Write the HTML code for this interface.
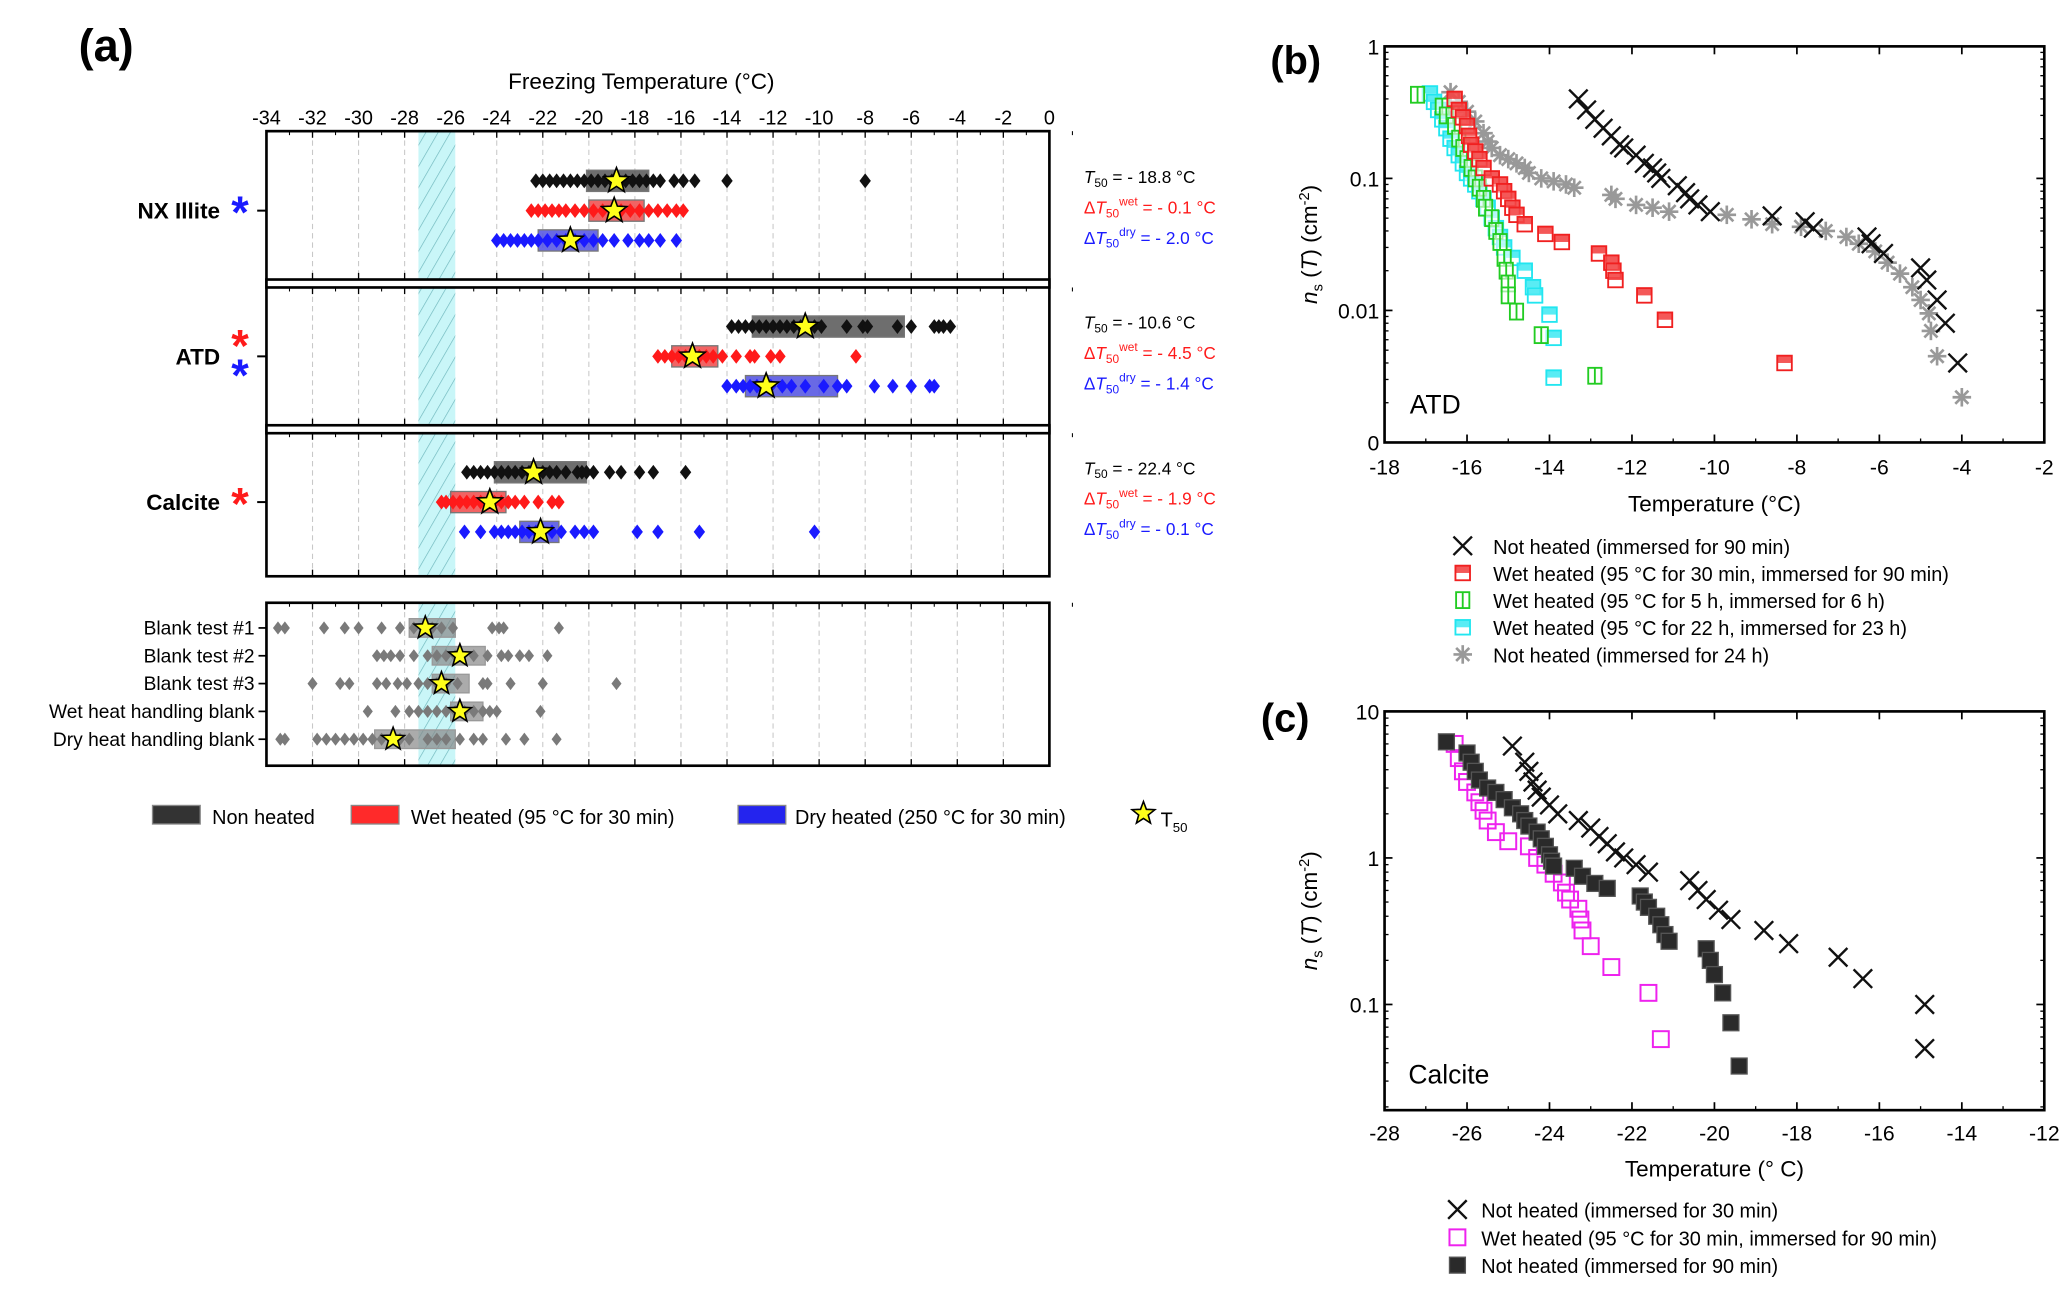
<!DOCTYPE html>
<html><head><meta charset="utf-8"><style>
html,body{margin:0;padding:0;background:#fff;}
svg{display:block;font-family:"Liberation Sans",Arial,sans-serif;}
</style></head><body>
<svg id="fig" width="2067" height="1289" viewBox="0 0 1560 973" xmlns="http://www.w3.org/2000/svg">
<defs>
<pattern id="hatch" width="8" height="8" patternUnits="userSpaceOnUse" patternTransform="rotate(30)">
<rect width="8" height="8" fill="#c9f6f8"/><line x1="0" y1="0" x2="0" y2="8" stroke="#6fb7bd" stroke-width="1"/>
</pattern>
</defs>
<g id="root"></g>
</svg>
<script>
// ---------- Panel (a) data ----------
const aTicks = [-34,-32,-30,-28,-26,-24,-22,-20,-18,-16,-14,-12,-10,-8,-6,-4,-2,0];
const samples = ['NX Illite','ATD','Calcite'];
const t50Text = ['- 18.8','- 10.6','- 22.4'];
const dWetText = ['- 0.1','- 4.5','- 1.9'];
const dDryText = ['- 2.0','- 1.4','- 0.1'];
const nxBlack = [-22.3,-22.0,-21.7,-21.4,-21.1,-20.8,-20.5,-20.2,-19.9,-19.6,-19.3,-19.0,-18.7,-18.4,-18.1,-17.8,-17.5,-17.2,-16.9,-16.3,-15.9,-15.4,-14.0,-8.0];
const nxRed = [-22.5,-22.2,-21.9,-21.6,-21.3,-21.0,-20.6,-20.2,-19.8,-19.4,-19.0,-18.6,-18.2,-17.8,-17.4,-17.0,-16.6,-16.2,-15.9];
const nxBlue = [-24.0,-23.7,-23.4,-23.1,-22.8,-22.5,-22.2,-21.8,-21.4,-21.0,-20.6,-20.2,-19.8,-19.4,-18.9,-18.3,-17.8,-17.4,-16.9,-16.2];
const atdBlack = [-13.8,-13.5,-13.2,-12.9,-12.6,-12.3,-12.0,-11.7,-11.4,-11.1,-10.8,-10.5,-10.2,-9.9,-8.8,-8.1,-7.9,-6.6,-6.0,-5.0,-4.8,-4.6,-4.3];
const atdRed = [-17.0,-16.7,-16.4,-16.1,-15.8,-15.5,-15.2,-14.9,-14.6,-14.2,-13.6,-13.0,-12.8,-12.1,-11.7,-8.4];
const atdBlue = [-14.0,-13.6,-13.3,-13.0,-12.7,-12.4,-12.1,-11.6,-11.2,-10.6,-9.8,-9.2,-8.8,-7.6,-6.8,-6.0,-5.2,-5.0];
const calBlack = [-25.3,-25.0,-24.7,-24.4,-24.1,-23.8,-23.5,-23.2,-22.9,-22.6,-22.3,-22.0,-21.7,-21.4,-21.0,-20.5,-20.3,-20.1,-19.8,-19.1,-18.6,-17.8,-17.2,-15.8];
const calRed = [-26.4,-26.2,-25.9,-25.6,-25.3,-25.0,-24.7,-24.4,-24.1,-23.8,-23.5,-23.2,-22.8,-22.2,-21.6,-21.3];
const calBlue = [-25.4,-24.7,-24.1,-23.8,-23.5,-23.2,-22.9,-22.6,-22.3,-22.0,-21.6,-21.2,-20.6,-20.2,-19.8,-17.9,-17.0,-15.2,-10.2];
const rowPoints = [[nxBlack,nxRed,nxBlue],[atdBlack,atdRed,atdBlue],[calBlack,calRed,calBlue]];
const boxLo = [[-20.1,-20.0,-22.2],[-12.9,-16.4,-13.2],[-24.1,-26.0,-23.0]];
const boxHi = [[-17.4,-17.6,-19.6],[-6.3,-14.4,-9.2],[-20.1,-23.6,-21.3]];
const starT = [[-18.8,-18.9,-20.8],[-10.6,-15.5,-12.3],[-22.4,-24.3,-22.1]];
const blankNames = ['Blank test #1','Blank test #2','Blank test #3','Wet heat handling blank','Dry heat handling blank'];
const blank1 = [-33.5,-33.2,-31.5,-30.6,-30.0,-29.0,-28.2,-27.6,-27.2,-26.8,-26.4,-25.9,-24.2,-23.9,-23.7,-21.3];
const blank2 = [-29.2,-28.9,-28.6,-28.2,-27.6,-27.0,-26.6,-26.2,-25.8,-25.5,-25.0,-24.4,-23.8,-23.5,-23.0,-22.6,-21.8];
const blank3 = [-32.0,-30.8,-30.4,-29.2,-28.8,-28.3,-27.9,-27.4,-27.0,-26.6,-26.2,-25.7,-24.6,-24.4,-23.4,-22.0,-18.8];
const blankWet = [-29.6,-28.4,-27.8,-27.4,-27.0,-26.6,-26.2,-25.8,-25.4,-25.0,-24.6,-24.3,-24.0,-22.1];
const blankDry = [-33.4,-33.2,-31.8,-31.4,-31.0,-30.6,-30.2,-29.8,-29.4,-29.0,-28.6,-28.2,-27.8,-27.0,-26.6,-26.2,-25.6,-25.0,-24.6,-23.6,-22.8,-21.4];
const blankPts = [blank1,blank2,blank3,blankWet,blankDry];
const blankLo = [-27.8,-26.8,-26.8,-26.0,-29.3];
const blankHi = [-25.8,-24.5,-25.2,-24.6,-25.8];
const blankStar = [-27.1,-25.6,-26.4,-25.6,-28.5];
const bandLo = -27.4, bandHi = -25.8;

// ---------- Panel (b) data ----------
const bXTicks = [-18,-16,-14,-12,-10,-8,-6,-4,-2];
const bYTicks = [1,0.1,0.01,0.001];
const bYLabels = ['1','0.1','0.01','0'];
const atdNot90 = [[-13.3,0.40],[-13.1,0.33],[-12.9,0.28],[-12.7,0.24],[-12.5,0.21],[-12.3,0.18],[-12.2,0.17],[-11.9,0.15],[-11.7,0.13],[-11.5,0.12],[-11.4,0.11],[-11.3,0.10],[-10.9,0.088],[-10.7,0.078],[-10.6,0.07],[-10.4,0.063],[-10.1,0.056],[-8.6,0.052],[-7.8,0.047],[-7.6,0.042],[-6.3,0.036],[-6.2,0.032],[-5.9,0.027],[-5.0,0.021],[-4.85,0.017],[-4.6,0.012],[-4.4,0.008],[-4.1,0.004]];
const atdWet30 = [[-16.3,0.40],[-16.2,0.33],[-16.1,0.29],[-16.0,0.25],[-15.95,0.21],[-15.9,0.18],[-15.8,0.16],[-15.7,0.14],[-15.6,0.12],[-15.4,0.10],[-15.2,0.09],[-15.1,0.08],[-15.0,0.07],[-14.9,0.06],[-14.8,0.053],[-14.6,0.045],[-14.1,0.038],[-13.7,0.033],[-12.8,0.027],[-12.5,0.023],[-12.45,0.02],[-12.4,0.017],[-11.7,0.013],[-11.2,0.0085],[-8.3,0.004]];
const atdWet5h = [[-17.2,0.43],[-16.6,0.35],[-16.5,0.3],[-16.3,0.25],[-16.2,0.2],[-16.1,0.17],[-16.0,0.14],[-15.9,0.12],[-15.8,0.1],[-15.7,0.085],[-15.6,0.07],[-15.55,0.06],[-15.4,0.05],[-15.3,0.04],[-15.2,0.033],[-15.1,0.025],[-15.05,0.02],[-15.0,0.016],[-15.0,0.013],[-14.8,0.0098],[-14.2,0.0065],[-12.9,0.0032]];
const atdWet22h = [[-16.9,0.44],[-16.8,0.38],[-16.7,0.33],[-16.6,0.28],[-16.5,0.24],[-16.4,0.2],[-16.3,0.17],[-16.2,0.15],[-16.1,0.13],[-16.0,0.11],[-15.9,0.1],[-15.8,0.09],[-15.7,0.08],[-15.6,0.07],[-15.5,0.06],[-15.4,0.05],[-15.3,0.042],[-15.2,0.036],[-15.1,0.03],[-14.9,0.025],[-14.6,0.02],[-14.4,0.015],[-14.35,0.013],[-14.0,0.0093],[-13.9,0.0062],[-13.9,0.0031]];
const atdNot24 = [[-16.4,0.45],[-16.2,0.38],[-16.0,0.32],[-15.8,0.27],[-15.6,0.22],[-15.5,0.19],[-15.4,0.17],[-15.2,0.15],[-15.0,0.14],[-14.8,0.13],[-14.6,0.12],[-14.5,0.11],[-14.2,0.1],[-13.9,0.095],[-13.6,0.09],[-13.4,0.085],[-12.5,0.075],[-12.4,0.07],[-11.9,0.063],[-11.5,0.06],[-11.1,0.056],[-9.7,0.053],[-9.1,0.049],[-8.6,0.045],[-7.9,0.043],[-7.3,0.04],[-6.8,0.036],[-6.5,0.032],[-6.1,0.028],[-5.8,0.023],[-5.5,0.019],[-5.2,0.015],[-5.0,0.012],[-4.8,0.0095],[-4.75,0.007],[-4.6,0.0045],[-4.0,0.0022]];

// ---------- Panel (c) data ----------
const cXTicks = [-28,-26,-24,-22,-20,-18,-16,-14,-12];
const cYTicks = [10,1,0.1];
const cYLabels = ['10','1','0.1'];
const calNot30 = [[-24.9,5.8],[-24.6,4.5],[-24.5,3.9],[-24.4,3.3],[-24.3,2.9],[-24.2,2.6],[-24.0,2.3],[-23.8,2.0],[-23.3,1.8],[-23.0,1.6],[-22.8,1.4],[-22.6,1.25],[-22.4,1.1],[-22.2,1.0],[-21.9,0.9],[-21.6,0.8],[-20.6,0.7],[-20.4,0.6],[-20.2,0.52],[-19.9,0.44],[-19.6,0.38],[-18.8,0.32],[-18.2,0.26],[-17.0,0.21],[-16.4,0.15],[-14.9,0.1],[-14.9,0.05]];
const calWet30 = [[-26.3,6.0],[-26.2,4.8],[-26.1,3.9],[-26.0,3.3],[-25.8,2.8],[-25.7,2.4],[-25.6,2.1],[-25.5,1.8],[-25.3,1.5],[-25.0,1.3],[-24.5,1.2],[-24.3,1.0],[-24.1,0.9],[-23.9,0.78],[-23.7,0.68],[-23.6,0.58],[-23.5,0.52],[-23.3,0.45],[-23.25,0.38],[-23.2,0.32],[-23.0,0.25],[-22.5,0.18],[-21.6,0.12],[-21.3,0.058]];
const calNot90 = [[-26.5,6.2],[-26.0,5.2],[-25.9,4.5],[-25.8,3.9],[-25.7,3.4],[-25.5,3.0],[-25.3,2.8],[-25.1,2.5],[-24.9,2.2],[-24.7,2.0],[-24.6,1.8],[-24.5,1.65],[-24.3,1.5],[-24.2,1.35],[-24.1,1.2],[-24.0,1.05],[-23.95,0.95],[-23.9,0.88],[-23.4,0.85],[-23.2,0.75],[-22.9,0.67],[-22.6,0.62],[-21.8,0.55],[-21.7,0.5],[-21.6,0.46],[-21.4,0.4],[-21.3,0.35],[-21.2,0.3],[-21.1,0.27],[-20.2,0.24],[-20.1,0.2],[-20.0,0.16],[-19.8,0.12],[-19.6,0.075],[-19.4,0.038]];

const NS='http://www.w3.org/2000/svg';
const root=document.getElementById('root');
function el(tag,attrs,parent,txt){const e=document.createElementNS(NS,tag);for(const k in attrs)e.setAttribute(k,attrs[k]);if(txt!==undefined)e.textContent=txt;(parent||root).appendChild(e);return e;}
function grp(name,parent){const g=el('g',{},parent);


return g;}

// ===== Panel (a) =====
const AX0=201,AX1=792;
const ax=v=>AX0+(v+34)/34*(AX1-AX0);
const pa=grp('panel-a');
const lbA=el('text',{x:80,y:46,'font-size':34,'font-weight':'bold','text-anchor':'middle'},pa,'(a)');


const ttl=el('text',{x:484,y:67,'font-size':17,'text-anchor':'middle'},pa,'Freezing Temperature (°C)');


aTicks.forEach(t=>{const tx=el('text',{x:ax(t),y:94,'font-size':15,'text-anchor':'middle'},pa,String(t));

});
const panels=[[99,211],[217,321],[327,435],[455,578]];
const rowC=[159,269,379];
const rowCol=['#111','#ff1a1a','#1a1aff'];
const boxFill=['#555','#f04848','#4f4fe0'];
function diamond(x,y,c,parent,r){r=r||4.3;return el('path',{d:`M${x} ${y-r*1.3}L${x+r} ${y}L${x} ${y+r*1.3}L${x-r} ${y}Z`,fill:c},parent);}
function star(x,y,parent,R){R=R||10;let d='';for(let i=0;i<10;i++){const r=i%2?R*0.42:R;const a=-Math.PI/2+i*Math.PI/5;d+=(i?'L':'M')+(x+r*Math.cos(a)).toFixed(1)+' '+(y+r*Math.sin(a)).toFixed(1);}return el('path',{d:d+'Z',fill:'#ffff1a',stroke:'#000','stroke-width':1.2},parent);}
panels.forEach((p,i)=>{
 const g=grp(i<3?'subplot-'+samples[i].toLowerCase().replace(/ /g,'-'):'subplot-blanks',pa);
 el('rect',{x:AX0,y:p[0],width:AX1-AX0,height:p[1]-p[0],fill:'#fff'},g);
 aTicks.forEach(t=>{if(t>-34&&t<0)el('line',{x1:ax(t),x2:ax(t),y1:p[0],y2:p[1],stroke:'#c8c8c8','stroke-dasharray':'4 3','stroke-width':0.8},g);
  el('line',{x1:ax(t),x2:ax(t),y1:p[0],y2:p[0]+5,stroke:'#000','stroke-width':1},g);
  el('line',{x1:ax(t),x2:ax(t),y1:p[1],y2:p[1]-5,stroke:'#000','stroke-width':1},g);
  el('line',{x1:ax(t+1),x2:ax(t+1),y1:p[0],y2:p[0]+3,stroke:'#000','stroke-width':0.8},g);});
 const band=el('rect',{x:ax(bandLo),y:p[0],width:ax(bandHi)-ax(bandLo),height:p[1]-p[0],fill:'url(#hatch)'},g);
 
 
});
// sample rows
samples.forEach((s,i)=>{
 const g=grp('rows-'+s.toLowerCase().replace(/ /g,'-'),pa);
 [0,1,2].forEach(k=>{
  const y=rowC[i]+(k-1)*22.5;
  const b=el('rect',{x:ax(boxLo[i][k]),y:y-8,width:ax(boxHi[i][k])-ax(boxLo[i][k]),height:16,fill:boxFill[k],'fill-opacity':0.85,stroke:'#777','stroke-width':1},g);
  
  
  rowPoints[i][k].forEach(v=>{const d=diamond(ax(v),y,rowCol[k],g);
   
   });
  const st=star(ax(starT[i][k]),y,g);
  
  
 });
 const lb=el('text',{x:166,y:rowC[i]+6,'font-size':17,'font-weight':'bold','text-anchor':'end'},g,s);
 
 
 el('line',{x1:194,x2:201,y1:rowC[i],y2:rowC[i],stroke:'#000','stroke-width':1.5},g);
 const starsC = i===0?['#1a1aff']:i===1?['#ff1a1a','#1a1aff']:['#ff1a1a'];
 starsC.forEach((c,j)=>{const yy=starsC.length===1?rowC[i]+13:rowC[i]+4+(j*22); const a=el('text',{x:181,y:yy,'font-size':34,'font-weight':'bold','text-anchor':'middle',fill:c},g,'*');
  
  });
 const ty=rowC[i]-21;
 const t1=el('text',{x:818,y:ty,'font-size':13},g);t1.innerHTML='<tspan font-style="italic">T</tspan><tspan font-size="9" dy="3">50</tspan><tspan dy="-3"> = '+t50Text[i]+' °C</tspan>';
 
 
 const t2=el('text',{x:818,y:ty+23,'font-size':13,fill:'#ff1a1a'},g);t2.innerHTML='Δ<tspan font-style="italic">T</tspan><tspan font-size="9" dy="3">50</tspan><tspan font-size="9" dy="-9">wet</tspan><tspan dy="6"> = '+dWetText[i]+' °C</tspan>';
 
 
 const t3=el('text',{x:818,y:ty+46,'font-size':13,fill:'#1a1aff'},g);t3.innerHTML='Δ<tspan font-style="italic">T</tspan><tspan font-size="9" dy="3">50</tspan><tspan font-size="9" dy="-9">dry</tspan><tspan dy="6"> = '+dDryText[i]+' °C</tspan>';
 
 
});
// blanks
const gb=grp('blank-rows',pa);
blankNames.forEach((n,i)=>{
 const y=474+i*21;
 const b=el('rect',{x:ax(blankLo[i]),y:y-7,width:ax(blankHi[i])-ax(blankLo[i]),height:14,fill:'#888','fill-opacity':0.7,stroke:'#999'},gb);
 
 
 blankPts[i].forEach(v=>{const d=diamond(ax(v),y,'#7a7a7a',gb,3.8);
  
  });
 const st=star(ax(blankStar[i]),y,gb,9);
 
 
 const lb=el('text',{x:192,y:y+5,'font-size':14.5,'text-anchor':'end'},gb,n);
 
 
 el('line',{x1:195,x2:201,y1:y,y2:y,stroke:'#000','stroke-width':1.3},gb);
});
// frames
const fr=grp('frames',pa);
el('rect',{x:AX0,y:99,width:AX1-AX0,height:336,fill:'none',stroke:'#000','stroke-width':2},fr);
el('rect',{x:AX0,y:211,width:AX1-AX0,height:6,fill:'#fff',stroke:'#000','stroke-width':2},fr);
el('rect',{x:AX0,y:321,width:AX1-AX0,height:6,fill:'#fff',stroke:'#000','stroke-width':2},fr);
el('rect',{x:AX0,y:455,width:AX1-AX0,height:123,fill:'none',stroke:'#000','stroke-width':2},fr);
// legend a
const la=grp('legend-a',pa);
[[115,'#333','Non heated',160],[265,'#ff2a2a','Wet heated (95 °C for 30 min)',310],[557,'#2424ee','Dry heated (250 °C for 30 min)',600]].forEach(e=>{
 const g=grp('legend-entry',la);
 el('rect',{x:e[0],y:608,width:36,height:14,fill:e[1],stroke:'#888'},g);
 el('text',{x:e[3],y:622,'font-size':15},g,e[2]);
});
{const g=grp('legend-entry',la);star(863,614,g,9);const t=el('text',{x:876,y:624,'font-size':15},g);t.innerHTML='T<tspan font-size="10" dy="4">50</tspan>';}

// ===== generic log plot =====
function logPlot(name,X0,X1,Y0,Y1,xmin,xmax,ymin,ymax,xt,yt,ylab,labText,labPos,innerLabel,innerPos,xTitle,xTitleY,xTickY,series,legend,legY){
 const g=grp(name);
 const sx=v=>X0+(v-xmin)/(xmax-xmin)*(X1-X0);
 const sy=v=>Y1-(Math.log10(v)-Math.log10(ymin))/(Math.log10(ymax)-Math.log10(ymin))*(Y1-Y0);
 el('rect',{x:X0,y:Y0,width:X1-X0,height:Y1-Y0,fill:'#fff',stroke:'#000','stroke-width':2},g);
 xt.forEach(t=>{const x=sx(t);el('line',{x1:x,x2:x,y1:Y1,y2:Y1-6,stroke:'#000','stroke-width':1.3},g);el('line',{x1:x,x2:x,y1:Y0,y2:Y0+6,stroke:'#000','stroke-width':1.3},g);
  const tx=el('text',{x:x,y:xTickY,'font-size':16,'text-anchor':'middle'},g,String(t));
  
  });
 for(let t=xmin+1;t<xmax;t+=2){el('line',{x1:sx(t),x2:sx(t),y1:Y1,y2:Y1-3,stroke:'#000'},g);}
 yt.forEach((t,i)=>{const y=sy(t);el('line',{x1:X0,x2:X0+6,y1:y,y2:y,stroke:'#000','stroke-width':1.3},g);el('line',{x1:X1,x2:X1-6,y1:y,y2:y,stroke:'#000','stroke-width':1.3},g);
  const tx=el('text',{x:X0-4,y:y+6,'font-size':16,'text-anchor':'end'},g,ylab[i]);
  
  
 });
 const d0=Math.floor(Math.log10(ymin)),d1=Math.ceil(Math.log10(ymax));
 for(let d=d0;d<d1;d++)for(let m=2;m<10;m++){const v=m*Math.pow(10,d);if(v<ymin||v>ymax)continue;const y=sy(v);el('line',{x1:X0,x2:X0+3,y1:y,y2:y,stroke:'#000'},g);el('line',{x1:X1,x2:X1-3,y1:y,y2:y,stroke:'#000'},g);}
 const L=el('text',{x:labPos[0],y:labPos[1],'font-size':30,'font-weight':'bold','text-anchor':'middle'},g,labText);
 
 
 const I=el('text',{x:innerPos[0],y:innerPos[1],'font-size':20},g,innerLabel);
 
 
 const XT=el('text',{x:(X0+X1)/2,y:xTitleY,'font-size':17,'text-anchor':'middle'},g,xTitle);
 
 
 const yc=(Y0+Y1)/2;
 const YT=el('text',{x:0,y:0,'font-size':17,'text-anchor':'middle',transform:`translate(${X0-51},${yc}) rotate(-90)`},g);
 YT.innerHTML='<tspan font-style="italic">n</tspan><tspan font-size="11" dy="4">s</tspan><tspan dy="-4"> (</tspan><tspan font-style="italic">T</tspan><tspan>) (cm</tspan><tspan font-size="11" dy="-6">-2</tspan><tspan dy="6">)</tspan>';
 
 
 series.forEach(s=>{const sg=grp('series-'+s.name,g);s.data.forEach(p=>{const m=marker(s.type,sx(p[0]),sy(p[1]),s.color,sg);
  
  });});
 const lg=grp('legend',g);
 legend.forEach((e,i)=>{const y=legY[0]+i*legY[1];const eg=grp('legend-entry',lg);marker(e.type,legY[2],y,e.color,eg);el('text',{x:legY[3],y:y+6,'font-size':15},eg,e.label);});
}
function marker(type,x,y,c,parent){
 const g=el('g',{},parent);
 if(type==='x'){el('path',{d:`M${x-7} ${y-7}L${x+7} ${y+7}M${x-7} ${y+7}L${x+7} ${y-7}`,stroke:c,'stroke-width':1.8},g);}
 else if(type==='ast'){for(let a=0;a<4;a++){const an=a*Math.PI/4;el('line',{x1:x-7*Math.cos(an),y1:y-7*Math.sin(an),x2:x+7*Math.cos(an),y2:y+7*Math.sin(an),stroke:c,'stroke-width':2},g);}}
 else if(type==='half'){el('rect',{x:x-5.5,y:y-5.5,width:11,height:11,fill:'#fff','fill-opacity':0.6,stroke:c,'stroke-width':1.4},g);el('rect',{x:x-5.5,y:y-5.5,width:11,height:5.5,fill:c,'fill-opacity':0.75},g);}
 else if(type==='vhalf'){el('rect',{x:x-5,y:y-6,width:10,height:12,fill:'#fff','fill-opacity':0.6,stroke:c,'stroke-width':1.4},g);el('line',{x1:x,x2:x,y1:y-6,y2:y+6,stroke:c,'stroke-width':1.4},g);}
 else if(type==='open'){el('rect',{x:x-6,y:y-6,width:12,height:12,fill:'none',stroke:c,'stroke-width':1.5},g);}
 else if(type==='fill'){el('rect',{x:x-6,y:y-6,width:12,height:12,fill:c,stroke:'#555'},g);}
 return g;
}
logPlot('panel-b',1045,1543,35,334,-18,-2,0.001,1,bXTicks,bYTicks,bYLabels,'(b)',[978,56],'ATD',[1064,312],'Temperature (°C)',386,358,
 [{name:'not-heated-24h',type:'ast',color:'#999',data:atdNot24},
  {name:'wet-22h',type:'half',color:'#22e6f0',data:atdWet22h},
  {name:'wet-5h',type:'vhalf',color:'#22cc22',data:atdWet5h},
  {name:'wet-30min',type:'half',color:'#f02020',data:atdWet30},
  {name:'not-heated-90min',type:'x',color:'#111',data:atdNot90}],
 [{type:'x',color:'#111',label:'Not heated (immersed for 90 min)'},{type:'half',color:'#f02020',label:'Wet heated (95 °C for 30 min, immersed for 90 min)'},{type:'vhalf',color:'#22cc22',label:'Wet heated (95 °C for 5 h, immersed for 6 h)'},{type:'half',color:'#22e6f0',label:'Wet heated (95 °C for 22 h, immersed for 23 h)'},{type:'ast',color:'#999',label:'Not heated (immersed for 24 h)'}],
 [412,20.5,1104,1127]);
logPlot('panel-c',1045,1543,537,838,-28,-12,0.019,10,cXTicks,cYTicks,cYLabels,'(c)',[970,552],'Calcite',[1063,818],'Temperature (° C)',888,861,
 [{name:'wet-30min',type:'open',color:'#ee22ee',data:calWet30},
  {name:'not-heated-90min',type:'fill',color:'#2a2a2a',data:calNot90},
  {name:'not-heated-30min',type:'x',color:'#111',data:calNot30}],
 [{type:'x',color:'#111',label:'Not heated (immersed for 30 min)'},{type:'open',color:'#ee22ee',label:'Wet heated (95 °C for 30 min, immersed for 90 min)'},{type:'fill',color:'#2a2a2a',label:'Not heated (immersed for 90 min)'}],
 [913,21,1100,1118]);
</script>
</body></html>
